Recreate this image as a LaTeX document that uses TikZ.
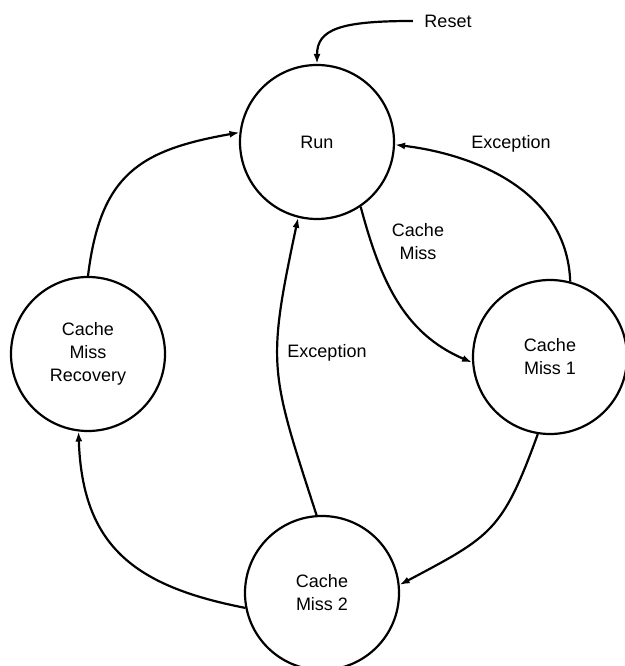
\documentclass[tikz,border=0pt]{standalone}
\usepackage{fontspec}
\setmainfont{Liberation Sans}
\usetikzlibrary{arrows.meta}
\begin{document}
\begin{tikzpicture}[x=1pt,y=1pt]
        \tikzset{state/.style = {shape=circle,draw,line width=2.2pt,minimum size=154pt,inner sep=0pt,align=center,font=\fontsize{18pt}{23pt}\selectfont}}
        \tikzset{tag/.style = {align=center,font=\fontsize{18pt}{23pt}\selectfont}}
        \tikzset{edge/.style = {line width=2.2pt,-{Latex[length=10pt,width=7pt]}}}
        \useasboundingbox (0,0) rectangle (624,666);
        \node[state] (run) at  (317,524) {Run};
        \node[state] (recovery) at  (88,312) {Cache\\Miss\\Recovery};
        \node[state] (miss1) at  (550,309) {Cache\\Miss 1};
        \node[state] (miss2) at  (322,73) {Cache\\Miss 2};
        \node[tag] (reset) at  (448,645) {Reset};
        \node[tag] (exc1) at  (511,522) {Exception};
        \node[tag] (cmiss) at  (418,424) {Cache\\Miss};
        \node[tag] (exc2) at  (327,313) {Exception};
        \draw[edge,shorten <=8pt] (reset.west) .. controls +(-80,0) and +(0,35) .. (run.north);
        \draw[edge] (recovery.90) to[out=83,in=190,looseness=1.25] (run.173);
        \draw[edge] (run.304) to[out=285,in=157] (miss1.184);
        \draw[edge] (miss1.75) to[out=92,in=353] (run.358);
        \draw[edge] (miss1.261) to[out=250,in=28,looseness=1.3] (miss2.6);
        \draw[edge] (miss2.94) to[out=108,in=258,looseness=1.3] (run.256);
        \draw[edge] (miss2.191) to[out=169,in=272,looseness=1.2] (recovery.263);
    \end{tikzpicture}
\end{document}
